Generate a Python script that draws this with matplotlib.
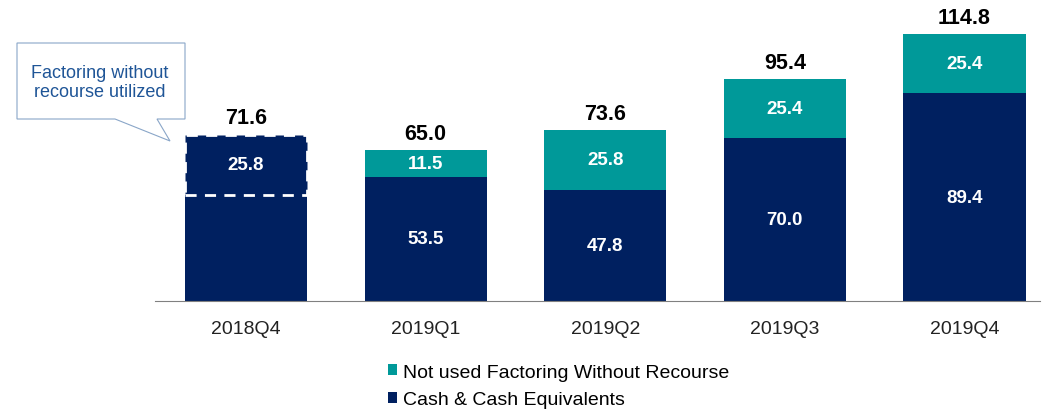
import matplotlib
matplotlib.use("Agg")
import matplotlib.pyplot as plt
from matplotlib.patches import Patch, Polygon

# 数据
quarters = ["2018Q4", "2019Q1", "2019Q2", "2019Q3", "2019Q4"]
cash = [45.8, 53.5, 47.8, 70.0, 89.4]
factoring = [25.8, 11.5, 25.8, 25.4, 25.4]
totals = [71.6, 65.0, 73.6, 95.4, 114.8]
cash_labels = ["", "53.5", "47.8", "70.0", "89.4"]
factoring_labels = ["25.8", "11.5", "25.8", "25.4", "25.4"]

navy = "#002060"
teal = "#009999"

plt.rcParams['font.family'] = ['Liberation Sans', 'DejaVu Sans']

fig = plt.figure(figsize=(10.53, 4.10), dpi=100)
ax = fig.add_axes([155 / 1053, 1 - 302 / 410, 885 / 1053, (302 - 23) / 410])

x = range(len(quarters))
ax.bar(x, cash, width=0.68, color=navy)
top_colors = [navy] + [teal] * (len(quarters) - 1)
bars = ax.bar(x, factoring, width=0.68, bottom=cash, color=top_colors)
# 2018Q4 已使用的保理：白色虚线框
bars[0].set_edgecolor("white")
bars[0].set_linestyle((0, (4, 3)))
bars[0].set_linewidth(2)

for i in x:
    if cash_labels[i]:
        ax.text(i, cash[i] / 2, cash_labels[i], ha="center", va="center",
                color="white", fontsize=13.5, fontweight="bold")
    ax.text(i, cash[i] + factoring[i] / 2, factoring_labels[i], ha="center",
            va="center", color="white", fontsize=13.5, fontweight="bold")
    ax.text(i, totals[i] + 2.6, f"{totals[i]:.1f}", ha="center", va="bottom",
            color="black", fontsize=15.5, fontweight="bold")

ax.set_xlim(-0.507, 4.42)
ax.set_ylim(0, 120)
ax.set_xticks(list(x))
ax.set_xticklabels(quarters, fontsize=14, color="#222222")
ax.tick_params(axis="x", length=0, pad=14)
ax.set_yticks([])
for s in ["top", "left", "right"]:
    ax.spines[s].set_visible(False)
ax.spines["bottom"].set_color("#808080")

# 图例
handles = [Patch(facecolor=teal, label="Not used Factoring Without Recourse"),
           Patch(facecolor=navy, label="Cash & Cash Equivalents")]
fig.legend(handles=handles, loc="upper left", bbox_to_anchor=(374 / 1053, 1 - 351 / 410),
           frameon=False, fontsize=14, handlelength=0.5, handleheight=0.5,
           handletextpad=0.3, labelspacing=0.55, borderpad=0.2)

# 标注框
W, H = 1053, 410
pts = [(17, 44), (185, 44), (185, 120), (157, 120), (170, 142), (115, 120), (17, 120)]
callout = Polygon([(px / W, 1 - py / H) for px, py in pts], closed=True,
                  transform=fig.transFigure, facecolor="white", edgecolor="#8aa6c8",
                  linewidth=0.8)
fig.patches.append(callout)
fig.text(100 / W, 1 - 83 / H, "Factoring without\nrecourse utilized", ha="center",
         va="center", color="#1f5597", fontsize=13, linespacing=1.15)

plt.savefig("out.png", dpi=100)
